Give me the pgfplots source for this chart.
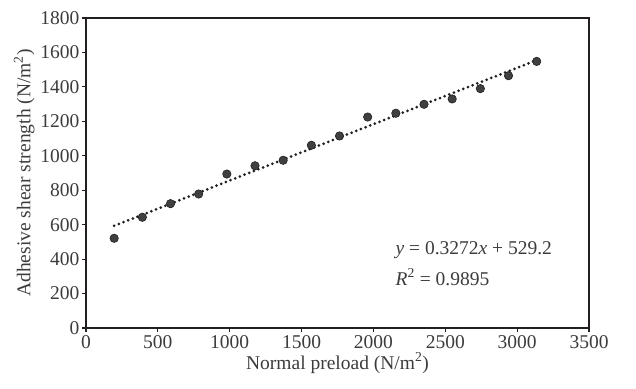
\documentclass[border=0pt]{standalone}
\usepackage{pgfplots}
\pgfplotsset{compat=1.18}
\usepackage{fontspec}
\setmainfont{Liberation Serif}
\definecolor{txt}{HTML}{3C3C3C}
\definecolor{ax}{HTML}{231F20}
\definecolor{pt}{HTML}{404040}
\begin{document}
\begin{tikzpicture}
\begin{axis}[
  scale only axis,
  width=503pt, height=310pt,
  xmin=0, xmax=3500, ymin=0, ymax=1800,
  xtick={0,500,...,3500}, ytick={0,200,...,1800},
  axis line style={ax, line width=1.4pt},
  tick style={ax, line width=1.2pt},
  tick align=outside, major tick length=4pt,
  xtick pos=bottom, ytick pos=left,
  /pgf/number format/assume math mode=true,
  /pgf/number format/1000 sep={},
  ticklabel style={font=\fontsize{19.5}{22}\selectfont, text=txt},
  yticklabel style={xshift=1pt},
  label style={font=\fontsize{19.5}{22}\selectfont, text=txt},
  xlabel={Normal preload (N/m\textsuperscript{2})},
  ylabel={Adhesive shear strength (N/m\textsuperscript{2})},
  xlabel style={yshift=3pt},
  ylabel style={yshift=-1pt},
]
\addplot[ax, line width=3pt, dash pattern=on 0pt off 5pt, line cap=round] coordinates {(196,593.3) (3136,1555.3)};
\addplot[only marks, mark=*, mark size=4.2pt, mark options={fill=pt, draw=ax, line width=0.6pt}] coordinates {
(196,521) (392,643) (588,722) (784,778) (980,894) (1176,942) (1372,974)
(1568,1061) (1764,1115) (1960,1225) (2156,1247) (2352,1299) (2548,1330)
(2744,1390) (2940,1465) (3136,1548)};
\node[anchor=west, text=txt, font=\fontsize{19.5}{22}\selectfont] at (axis cs:2130,453) {\textit{y} = 0.3272\textit{x} + 529.2};
\node[anchor=west, text=txt, font=\fontsize{19.5}{22}\selectfont] at (axis cs:2130,296) {\textit{R}\textsuperscript{2} = 0.9895};
\end{axis}
\pgfresetboundingbox
\path[use as bounding box] (-86pt,-60pt) rectangle (550pt,328pt);
\end{tikzpicture}
\end{document}
